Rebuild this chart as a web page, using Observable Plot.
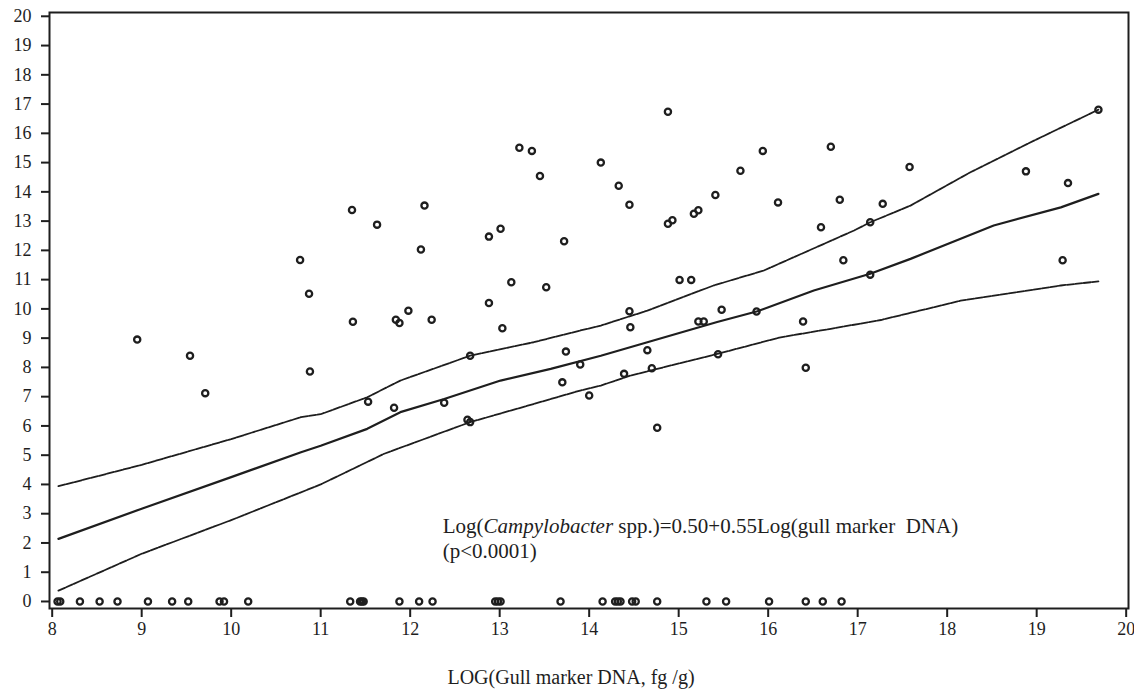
<!DOCTYPE html>
<html>
<head>
<meta charset="utf-8">
<script src="https://cdn.jsdelivr.net/npm/d3@7"></script>
<script src="https://cdn.jsdelivr.net/npm/@observablehq/plot@0.6"></script>
<style>
  html, body { margin: 0; padding: 0; background: #fff; }
  #chart svg { display: block; }
</style>
</head>
<body>
<div id="chart"></div>
<script>
// ---- data ----
const xTicks = [8, 9, 10, 11, 12, 13, 14, 15, 16, 17, 18, 19, 20];
const yTicks = [0, 1, 2, 3, 4, 5, 6, 7, 8, 9, 10, 11, 12, 13, 14, 15, 16, 17, 18, 19, 20];

// samples with no Campylobacter detected (y = 0)
const zeroX = [8.06, 8.09, 8.31, 8.53, 8.73, 9.07, 9.34, 9.52, 9.87, 9.92, 10.19,
  11.33, 11.44, 11.46, 11.48, 11.88, 12.10, 12.25, 12.95, 12.98, 13.01, 13.68,
  14.15, 14.29, 14.32, 14.35, 14.48, 14.52, 14.76, 15.31, 15.53, 16.01, 16.42, 16.61, 16.82];

// samples with Campylobacter detected
const posX = [8.95, 9.54, 9.71, 10.77, 10.87, 10.88, 11.35, 11.36, 11.53, 11.63,
  11.82, 11.84, 11.88, 11.98, 12.12, 12.16, 12.24, 12.38, 12.64, 12.67,
  12.67, 12.88, 12.88, 13.01, 13.03, 13.13, 13.22, 13.36, 13.45, 13.52,
  13.70, 13.72, 13.74, 13.90, 14.00, 14.13, 14.33, 14.39, 14.45, 14.45,
  14.46, 14.65, 14.70, 14.76, 14.88, 14.88, 14.93, 15.01, 15.14, 15.17,
  15.22, 15.22, 15.28, 15.41, 15.44, 15.48, 15.69, 15.87, 15.94, 16.11,
  16.39, 16.42, 16.59, 16.70, 16.80, 16.84, 17.14, 17.14, 17.28, 17.58,
  18.88, 19.29, 19.35, 19.69];
const posY = [8.95, 8.40, 7.12, 11.67, 10.52, 7.86, 13.38, 9.56, 6.83, 12.88,
  6.62, 9.63, 9.52, 9.94, 12.03, 13.53, 9.63, 6.79, 6.21, 6.13,
  8.40, 12.47, 10.20, 12.74, 9.34, 10.91, 15.51, 15.40, 14.54, 10.74,
  7.49, 12.31, 8.54, 8.10, 7.04, 15.00, 14.21, 7.78, 13.56, 9.92,
  9.37, 8.59, 7.97, 5.94, 16.74, 12.91, 13.03, 10.99, 10.99, 13.25,
  13.37, 9.57, 9.57, 13.89, 8.45, 9.97, 14.72, 9.91, 15.40, 13.64,
  9.57, 7.99, 12.79, 15.54, 13.73, 11.66, 12.96, 11.17, 13.59, 14.85,
  14.70, 11.66, 14.30, 16.81];

// fitted line and confidence band
const fitX = [8.07, 9.0, 10.0, 10.78, 11.0, 11.52, 11.89, 12.38, 13.01, 13.57, 14.13,
  14.65, 15.43, 15.88, 16.51, 17.14, 17.59, 18.52, 19.27, 19.69];
const fitY = [2.14, 3.17, 4.25, 5.10, 5.32, 5.90, 6.47, 6.92, 7.55, 7.95, 8.40,
  8.86, 9.55, 9.92, 10.63, 11.20, 11.71, 12.85, 13.47, 13.93];
const upperX = [8.07, 9.0, 10.0, 10.78, 11.0, 11.52, 11.89, 12.67, 13.38, 13.90, 14.13,
  14.65, 15.39, 15.95, 16.96, 17.14, 17.59, 18.26, 18.97, 19.69];
const upperY = [3.94, 4.67, 5.55, 6.30, 6.40, 6.98, 7.55, 8.40, 8.86, 9.26, 9.43,
  9.94, 10.80, 11.31, 12.68, 12.96, 13.53, 14.67, 15.75, 16.81];
const lowerX = [8.07, 9.0, 10.0, 11.0, 11.71, 12.67, 13.38, 13.90, 14.13, 14.46,
  15.43, 16.14, 16.70, 17.26, 18.15, 19.27, 19.69];
const lowerY = [0.37, 1.63, 2.78, 4.0, 5.05, 6.13, 6.75, 7.21, 7.38, 7.72,
  8.46, 9.03, 9.32, 9.62, 10.28, 10.80, 10.94];

const xTitle = "LOG(Gull marker DNA, fg /g)";
const noteItalic = "Campylobacter";
const noteLine2 = "(p<0.0001)";
const noteAnchorX = 12.37;
const noteLineY = [2.56, 1.71];

// ---- build tables ----
const zeroPts = zeroX.map(x => ({x, y: 0}));
const posPts = posX.map((x, i) => ({x, y: posY[i]}));
const toLine = (xs, ys) => xs.map((x, i) => ({x, y: ys[i]}));
const fit = toLine(fitX, fitY), upper = toLine(upperX, upperY), lower = toLine(lowerX, lowerY);

const FONT = "'Liberation Serif', 'Times New Roman', Times, serif";
const INK = "#1e1e1e";

const plot = Plot.plot({
  width: 1134,
  height: 689,
  marginLeft: 49,
  marginRight: 6,
  marginTop: 12,
  marginBottom: 81,
  style: {fontFamily: FONT, fontSize: "18px", color: INK, background: "#fff", overflow: "visible"},
  x: {domain: [7.97, 20.026], label: null},
  y: {domain: [-0.24, 20.13], label: null},
  marks: [
    Plot.frame({stroke: INK, strokeWidth: 2}),
    Plot.axisX({ticks: xTicks, tickSize: 9, tickPadding: 5, strokeWidth: 2, tickFormat: d => String(d),
      label: null, fontSize: 18, fontFamily: FONT, fill: INK}),
    Plot.axisY({ticks: yTicks, tickSize: 8, tickPadding: 10, strokeWidth: 2, tickFormat: d => String(d),
      label: null, fontSize: 18, fontFamily: FONT, fill: INK}),
    Plot.line(upper, {x: "x", y: "y", stroke: INK, strokeWidth: 1.8, strokeDasharray: "7,1.4"}),
    Plot.line(lower, {x: "x", y: "y", stroke: INK, strokeWidth: 1.8, strokeDasharray: "7,1.4"}),
    Plot.line(fit, {x: "x", y: "y", stroke: INK, strokeWidth: 2.2}),
    Plot.dot(zeroPts, {x: "x", y: "y", r: 3.1, stroke: INK, strokeWidth: 2.3, fill: "none"}),
    Plot.dot(posPts, {x: "x", y: "y", r: 3.1, stroke: INK, strokeWidth: 2.3, fill: "none"}),
    Plot.text([xTitle], {text: d => d, frameAnchor: "bottom", dx: -18, dy: 75, fontSize: 20,
      fontFamily: FONT, fill: INK})
  ]
});

document.getElementById("chart").appendChild(plot);

// regression annotation with italic genus name, placed through the plot's scales
const sx = plot.scale("x"), sy = plot.scale("y");
const svg = d3.select(plot);
const g = svg.append("g")
  .attr("font-family", FONT)
  .attr("font-size", 21)
  .attr("fill", INK)
  .attr("text-anchor", "start")
  .style("white-space", "pre");
const t1 = g.append("text")
  .attr("x", sx.apply(noteAnchorX))
  .attr("y", sy.apply(noteLineY[0]))
  .attr("dy", "0.35em");
t1.append("tspan").text("Log(");
t1.append("tspan").attr("font-style", "italic").text(noteItalic);
t1.append("tspan").text(" spp.)=0.50+0.55Log(gull marker  DNA)");
g.append("text")
  .attr("x", sx.apply(noteAnchorX))
  .attr("y", sy.apply(noteLineY[1]))
  .attr("dy", "0.35em")
  .text(noteLine2);
</script>
</body>
</html>
